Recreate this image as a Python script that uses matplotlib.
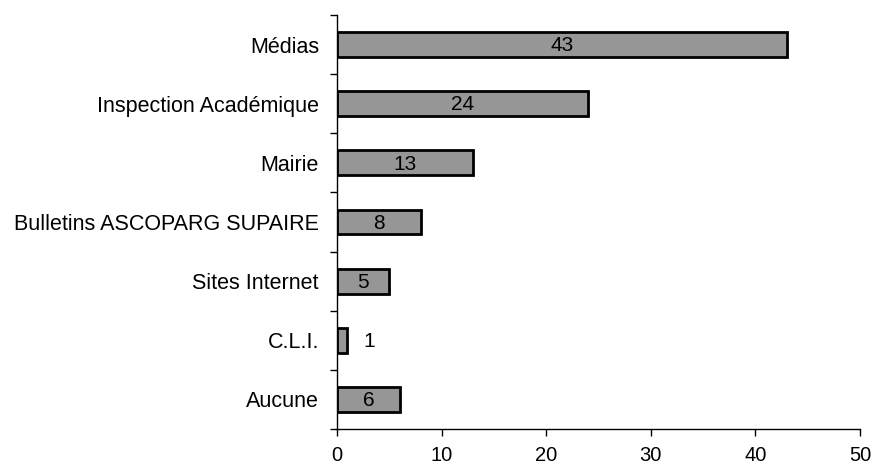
import matplotlib
matplotlib.use("Agg")
import matplotlib.pyplot as plt
import numpy as np

categories = ["Médias", "Inspection Académique", "Mairie", "Bulletins ASCOPARG SUPAIRE",
              "Sites Internet", "C.L.I.", "Aucune"]
values = [43, 24, 13, 8, 5, 1, 6]
xticks = [0, 10, 20, 30, 40, 50]

plt.rcParams['font.family'] = ['Liberation Sans', 'DejaVu Sans']
FS = 15.5
FSV = 15.0
FST = 14.5

fig = plt.figure(figsize=(8.72, 4.68), dpi=100)
ax = fig.add_axes([337/872, 1-429/468, (860-337)/872, (429-15)/468])

n = len(categories)
ypos = np.arange(n)[::-1]
bars = ax.barh(ypos, values, height=0.42, color="#969696", edgecolor="black", linewidth=2)

for y, v in zip(ypos, values):
    if v >= 3:
        ax.text(v/2, y - 0.02, str(v), ha="center", va="center", fontsize=FSV)
    else:
        ax.text(v + 2.05, y - 0.02, str(v), ha="center", va="center", fontsize=FSV)

ax.set_xlim(0, 50)
ax.set_ylim(-0.5, n-0.5)
ax.set_xticks(xticks)
ax.set_xticklabels([str(t) for t in xticks], fontsize=FST)
ax.set_yticks(ypos)
ax.set_yticklabels(categories, fontsize=FS)
ax.set_yticks(np.arange(n+1) - 0.5, minor=True)
ax.tick_params(axis="y", which="major", length=0, pad=13)
ax.tick_params(axis="y", which="minor", length=5, direction="out", width=1)
ax.tick_params(axis="x", length=5, direction="out", width=1, pad=7)
for s in ["top", "right"]:
    ax.spines[s].set_visible(False)
ax.spines["left"].set_linewidth(1)
ax.spines["bottom"].set_linewidth(1)

fig.savefig("out.png", dpi=100)
